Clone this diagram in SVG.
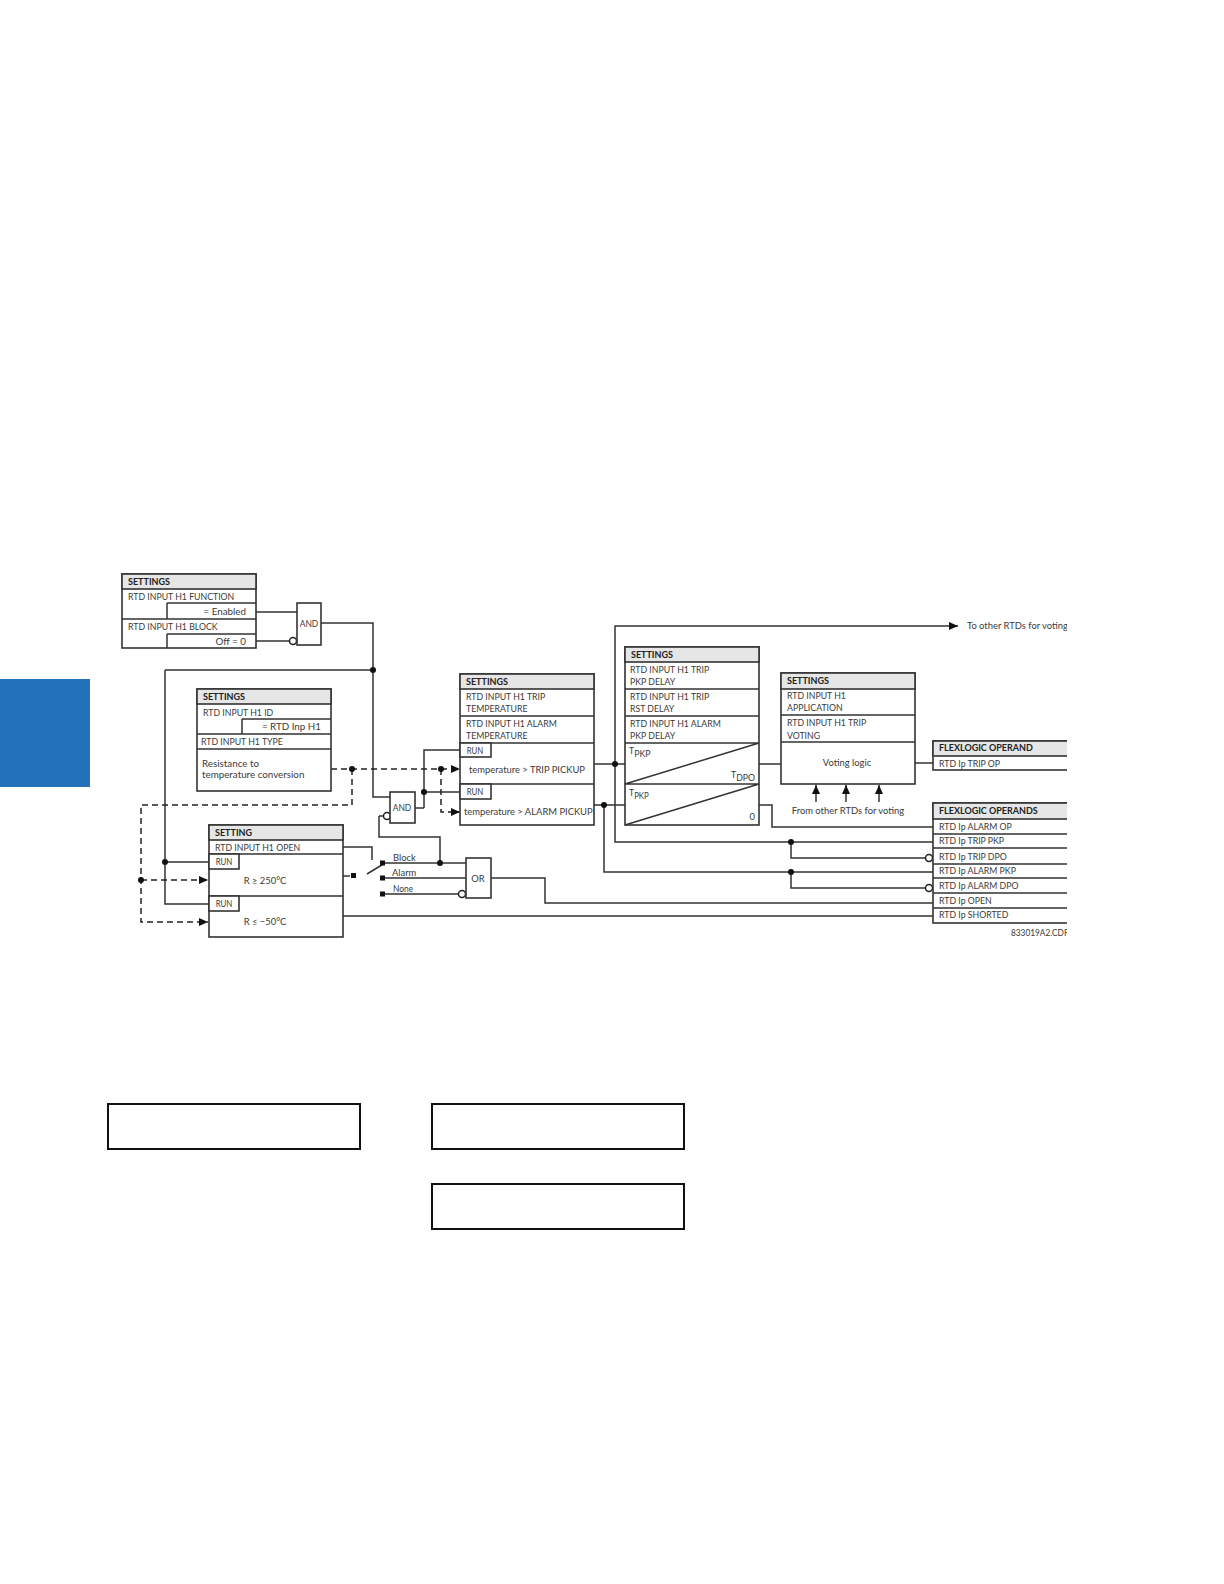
<svg xmlns="http://www.w3.org/2000/svg" width="1224" height="1584" viewBox="0 0 1224 1584">
<style>
text{font-family:"Lato","Liberation Sans",sans-serif;font-size:10px;fill:#3a3a3a;transform-box:fill-box;transform-origin:0 50%;transform:scaleX(.875)}
.h{font-weight:bold;fill:#222;transform:translateY(-.8px) scaleX(.9)}
.n{transform:scaleX(.94)}
.r{transform:scaleX(.98)}
.m{text-anchor:middle;transform-origin:50% 50%}
.e{text-anchor:end;transform-origin:100% 50%}
.b{fill:#fff;stroke:#333;stroke-width:1.6}
.hd{fill:#e6e6e6;stroke:#333;stroke-width:1.6}
.l{fill:none;stroke:#333;stroke-width:1.5}
.d{fill:none;stroke:#222;stroke-width:1.5;stroke-dasharray:6 4}
.c{fill:#fff;stroke:#222;stroke-width:1.5}
.k{fill:#111;stroke:none}
.note{fill:#fff;stroke:#111;stroke-width:2}
</style>
<defs>
<marker id="a" markerWidth="11" markerHeight="9" refX="9" refY="4" orient="auto" markerUnits="userSpaceOnUse"><path d="M0 0L9 4L0 8z" fill="#111"/></marker>
<clipPath id="clip"><rect x="0" y="560" width="1067" height="400"/></clipPath>
</defs>
<rect id="tab" x="0" y="679" width="90" height="108" fill="#2271b9"/>
<g clip-path="url(#clip)">
<g id="connectors">
<path class="l" d="M256 612H297M256 641H289"/>
<path class="l" d="M321 623H373V797H390M165 670H373M165 670V904H209M165 862H209"/>
<path class="l" d="M424 808H415M424 808V750H460M424 792H460"/>
<path class="l" d="M379 816V837H440V863M379 816H383"/>
<path class="l" d="M343 847H372V860M343 876H350"/>
<path class="l" d="M367 874L385 863M382 863H466M382 878H466M382 894H458"/>
<path class="l" d="M491 878H545V903H933"/>
<path class="l" d="M343 916H933"/>
<path class="l" d="M594 764H625M615 764V626H958" marker-end="url(#a)"/>
<path class="l" d="M615 764V842H933"/>
<path class="l" d="M594 805H625M604 805V872H933"/>
<path class="l" d="M759 764H781M915 763H933"/>
<path class="l" d="M759 805H772V827H933"/>
<path class="l" d="M791 842V858H925M791 872V888H925"/>
<path class="l" d="M816 802V785" marker-end="url(#a)"/>
<path class="l" d="M846 802V785" marker-end="url(#a)"/>
<path class="l" d="M879 802V785" marker-end="url(#a)"/>
<path class="d" d="M331 769H460" marker-end="url(#a)"/>
<path class="d" d="M352 769V805H141V922H208" marker-end="url(#a)"/>
<path class="d" d="M141 880H208" marker-end="url(#a)"/>
<path class="d" d="M441 769V812H460" marker-end="url(#a)"/>
<g class="k">
<circle cx="373" cy="670" r="3"/><circle cx="352" cy="769" r="3"/><circle cx="441" cy="769" r="3"/><circle cx="424" cy="792" r="3"/><circle cx="165" cy="862" r="3"/><circle cx="141" cy="880" r="3"/><circle cx="440" cy="863" r="3"/><circle cx="615" cy="764" r="3"/><circle cx="604" cy="805" r="3"/><circle cx="791" cy="842" r="3"/><circle cx="791" cy="872" r="3"/>
<rect x="351" y="873" width="5" height="5"/><rect x="380" y="860.500" width="5" height="5"/><rect x="380" y="875.500" width="5" height="5"/><rect x="380" y="891.500" width="5" height="5"/>
</g>
<circle class="c" cx="293" cy="641" r="3.500"/><circle class="c" cx="387" cy="816" r="3.500"/><circle class="c" cx="462" cy="894" r="3.500"/><circle class="c" cx="929" cy="858" r="3.500"/><circle class="c" cx="929" cy="888" r="3.500"/>
</g>
<g id="n1"><rect class="b" x="122" y="574" width="134" height="74"/><rect class="hd" x="122" y="574" width="134" height="15"/><path class="l" d="M122 619H256M167 603H256M167 634H256M167 603V619M167 634V648"/>
<text class="h" x="128" y="586">SETTINGS</text><text x="128" y="600">RTD INPUT H1 FUNCTION</text><text class="e r" x="246" y="615">= Enabled</text><text x="128" y="630">RTD INPUT H1 BLOCK</text><text class="e r" x="246" y="645">Off = 0</text></g>
<g id="and1"><rect class="b" x="297" y="603" width="24" height="42"/><text class="m n" x="309" y="627" style="font-size:9px">AND</text></g>
<g id="n2"><rect class="b" x="197" y="689" width="134" height="102"/><rect class="hd" x="197" y="689" width="134" height="15"/><path class="l" d="M197 734H331M197 749H331M242 719H331M242 719V734"/>
<text class="h" x="203" y="701">SETTINGS</text><text x="203" y="716">RTD INPUT H1 ID</text><text class="e r" x="321" y="730">= RTD Inp H1</text><text x="201" y="745">RTD INPUT H1 TYPE</text><text class="r" x="202" y="767">Resistance to</text><text class="r" x="202" y="778">temperature conversion</text></g>
<g id="n3"><rect class="b" x="209" y="825" width="134" height="112"/><rect class="hd" x="209" y="825" width="134" height="15"/><path class="l" d="M209 854H343M209 896H343"/><rect class="b" x="209" y="854" width="30" height="15"/><rect class="b" x="209" y="896" width="30" height="15"/>
<text class="h" x="215" y="837">SETTING</text><text x="215" y="851">RTD INPUT H1 OPEN</text><text class="m" x="224" y="865" style="font-size:9px">RUN</text><text class="m" x="224" y="907" style="font-size:9px">RUN</text><text class="m n" x="265" y="884">R ≥ 250°C</text><text class="m n" x="265" y="925">R ≤ −50°C</text></g>
<g id="and2"><rect class="b" x="390" y="792" width="25" height="31"/><text class="m n" x="402" y="811" style="font-size:9px">AND</text></g>
<g id="sw"><text class="n" x="393" y="861">Block</text><text class="n" x="392" y="876">Alarm</text><text class="n" x="393" y="892" style="font-size:9px">None</text></g>
<g id="or"><rect class="b" x="466" y="858" width="25" height="40"/><text class="m n" x="478" y="882">OR</text></g>
<g id="n4"><rect class="b" x="460" y="674" width="134" height="151"/><rect class="hd" x="460" y="674" width="134" height="15"/><path class="l" d="M460 716H594M460 743H594M460 784H594"/><rect class="b" x="460" y="743" width="31" height="14"/><rect class="b" x="460" y="784" width="31" height="15"/>
<text class="h" x="466" y="686">SETTINGS</text><text x="466" y="700">RTD INPUT H1 TRIP</text><text x="466" y="712">TEMPERATURE</text><text x="466" y="727">RTD INPUT H1 ALARM</text><text x="466" y="739">TEMPERATURE</text><text class="m" x="475" y="754" style="font-size:9px">RUN</text><text class="m" x="475" y="795" style="font-size:9px">RUN</text><text class="n" x="469" y="773">temperature &gt; TRIP PICKUP</text><text class="n" x="464" y="815">temperature &gt; ALARM PICKUP</text></g>
<g id="n5"><rect class="b" x="625" y="647" width="134" height="178"/><rect class="hd" x="625" y="647" width="134" height="15"/><path class="l" d="M625 689H759M625 716H759M625 743H759M625 784H759M625 784L759 743M625 825L759 784"/>
<text class="h" x="631" y="659">SETTINGS</text><text x="630" y="673">RTD INPUT H1 TRIP</text><text x="630" y="685">PKP DELAY</text><text x="630" y="700">RTD INPUT H1 TRIP</text><text x="630" y="712">RST DELAY</text><text x="630" y="727">RTD INPUT H1 ALARM</text><text x="630" y="739">PKP DELAY</text>
<text x="629" y="754">T<tspan dy="3">PKP</tspan></text><text class="e" x="755" y="778">T<tspan dy="3">DPO</tspan></text><text x="629" y="796">T<tspan dy="3" style="font-size:9px">PKP</tspan></text><text class="e n" x="755" y="820">0</text></g>
<g id="n6"><rect class="b" x="781" y="673" width="134" height="111"/><rect class="hd" x="781" y="673" width="134" height="16"/><path class="l" d="M781 715H915M781 742H915"/>
<text class="h" x="787" y="685">SETTINGS</text><text x="787" y="699">RTD INPUT H1</text><text x="787" y="711">APPLICATION</text><text x="787" y="726">RTD INPUT H1 TRIP</text><text x="787" y="739">VOTING</text><text class="m n" x="847" y="766">Voting logic</text></g>
<g id="n7"><rect class="b" x="933" y="741" width="140" height="29"/><rect class="hd" x="933" y="741" width="140" height="15"/><text class="h" x="939" y="752">FLEXLOGIC OPERAND</text><text x="939" y="767">RTD Ip TRIP OP</text></g>
<g id="n8"><rect class="b" x="933" y="803" width="140" height="120"/><rect class="hd" x="933" y="803" width="140" height="16"/><path class="l" d="M933 834H1073M933 848H1073M933 864H1073M933 878H1073M933 893H1073M933 908H1073"/>
<text class="h" x="939" y="815">FLEXLOGIC OPERANDS</text><text x="939" y="830">RTD Ip ALARM OP</text><text x="939" y="844">RTD Ip TRIP PKP</text><text x="939" y="860">RTD Ip TRIP DPO</text><text x="939" y="874">RTD Ip ALARM PKP</text><text x="939" y="889">RTD Ip ALARM DPO</text><text x="939" y="904">RTD Ip OPEN</text><text x="939" y="918">RTD Ip SHORTED</text></g>
<text class="n" x="967" y="629">To other RTDs for voting</text>
<text class="m n" x="848" y="814">From other RTDs for voting</text>
<text x="1011" y="936" style="font-size:9.500px">833019A2.CDR</text>
</g>
<rect class="note" x="108" y="1104" width="252" height="45"/>
<rect class="note" x="432" y="1104" width="252" height="45"/>
<rect class="note" x="432" y="1184" width="252" height="45"/>
</svg>
